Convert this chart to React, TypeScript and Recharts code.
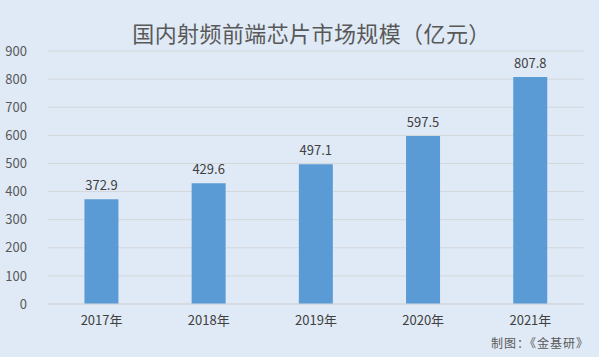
import React from 'react';
import { BarChart, Bar, XAxis, YAxis, CartesianGrid, LabelList } from 'recharts';

const years = ['2017年', '2018年', '2019年', '2020年', '2021年'];
const marketSize = [372.9, 429.6, 497.1, 597.5, 807.8];
const yTicks = [0, 100, 200, 300, 400, 500, 600, 700, 800, 900];

const data = years.map((year, i) => ({ year, value: marketSize[i] }));

const font = '"Microsoft YaHei", "Noto Sans CJK SC", sans-serif';

export default function App() {
  return (
    <div style={{ position: 'absolute', left: 0, top: 0, width: 599, height: 357, background: '#dfeaf6', fontFamily: font }}>
      <div style={{ position: 'absolute', top: 16, left: 24, width: 575, textAlign: 'center', fontSize: 22, letterSpacing: 0.4, color: '#595959' }}>
        国内射频前端芯片市场规模（亿元）
      </div>
      <BarChart
        width={599}
        height={357}
        data={data}
        margin={{ top: 51, right: 15, left: 0, bottom: 23 }}
        barCategoryGap="34%"
      >
        <CartesianGrid stroke="#d3d7db" vertical={false} />
        <XAxis
          dataKey="year"
          height={30}
          tickLine={false}
          axisLine={{ stroke: '#d3d7db' }}
          tick={{ fill: '#404040', fontSize: 13, fontFamily: font }}
          tickMargin={6}
        />
        <YAxis
          width={48}
          domain={[0, 900]}
          ticks={yTicks}
          axisLine={false}
          tickLine={false}
          tickMargin={15}
          tick={{ fill: '#595959', fontSize: 13, fontFamily: font }}
        />
        <Bar dataKey="value" fill="#5b9bd5" isAnimationActive={false}>
          <LabelList dataKey="value" position="top" offset={9} fill="#404040" fontSize={13} fontFamily={font} />
        </Bar>
      </BarChart>
      <div style={{ position: 'absolute', right: 10, top: 334, fontSize: 12, letterSpacing: 1, color: '#595959' }}>
        制图：《金基研》
      </div>
    </div>
  );
}
